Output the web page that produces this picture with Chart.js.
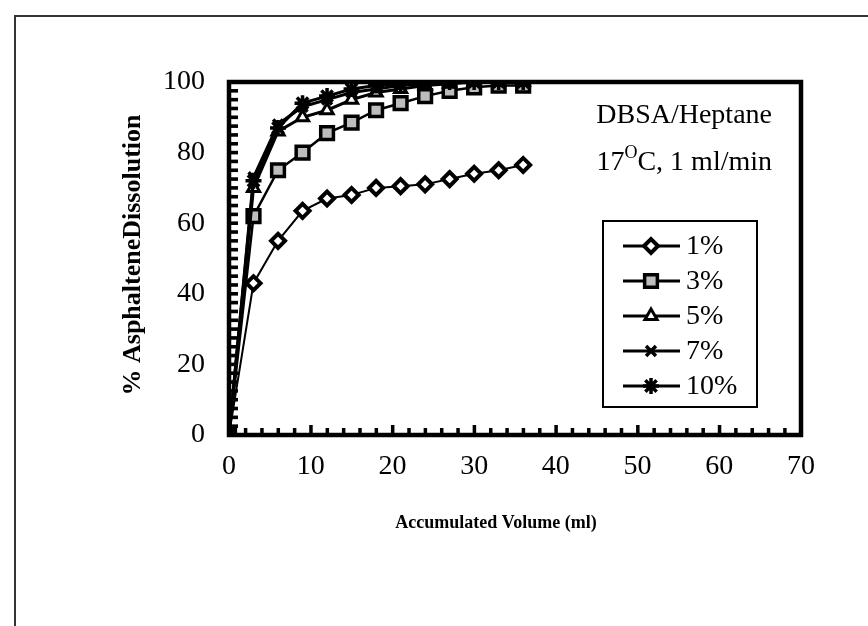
<!DOCTYPE html>
<html>
<head>
<meta charset="utf-8">
<script src="https://cdn.jsdelivr.net/npm/chart.js@4/dist/chart.umd.min.js"></script>
<style>
  html, body { margin: 0; padding: 0; background: #fff; }
  #wrap { position: relative; width: 868px; height: 626px; overflow: hidden; }
  #frame { position: absolute; left: 14px; top: 15px; width: 900px; height: 700px;
           border-left: 2px solid #333; border-top: 2px solid #333; }
  canvas { position: absolute; left: 0; top: 0; }
</style>
</head>
<body>
<div id="wrap">
  <div id="frame"></div>
  <canvas id="chart" width="868" height="626"></canvas>
</div>
<script>
// accumulated volume (ml) and % asphaltene dissolution per DBSA concentration
const volume = [0, 3, 6, 9, 12, 15, 18, 21, 24, 27, 30, 33, 36];
const dbsa1 = [0, 43, 55, 63.5, 67, 68, 70, 70.5, 71, 72.5, 74, 75, 76.5];
const dbsa3 = [0, 62, 75, 80, 85.5, 88.5, 92, 94, 96, 97.5, 98.5, 99, 99];
const dbsa5 = [0, 70, 86, 90, 92, 95, 97, 98, 99, 99.5, 100, 100, 100];
const dbsa7 = [0, 73, 88, 93, 95, 97, 98, 99, 99.5, 100, 100, 100, 100];
const dbsa10 = [0, 72, 87, 94, 96, 98, 99, 99.5, 100, 100, 100, 100, 100];
const seriesNames = ['1%', '3%', '5%', '7%', '10%'];
const xTicks = [0, 10, 20, 30, 40, 50, 60, 70];
const yTicks = [0, 20, 40, 60, 80, 100];

const serif = "'Liberation Serif', 'DejaVu Serif', serif";

function pts(ys) {
	return volume.map(function (v, i) { return { x: v, y: ys[i] }; });
}

const styles = [
	{ pointStyle: 'rectRot', radius: 7, bg: '#ffffff', bw: 4, lw: 2 },
	{ pointStyle: 'rect', radius: 9, bg: '#bdbdbd', bw: 3.5, lw: 2.5 },
	{ pointStyle: 'triangle', radius: 7, bg: '#ffffff', bw: 3, lw: 3 },
	{ pointStyle: 'crossRot', radius: 7, bg: '#000000', bw: 3.5, lw: 3 },
	{ pointStyle: 'star', radius: 8, bg: '#000000', bw: 3.5, lw: 3 }
];

const allData = [dbsa1, dbsa3, dbsa5, dbsa7, dbsa10];

const datasets = allData.map(function (ys, i) {
	const s = styles[i];
	return {
		label: seriesNames[i],
		data: pts(ys),
		showLine: true,
		borderColor: '#000',
		borderWidth: s.lw,
		pointStyle: s.pointStyle,
		pointRadius: s.radius,
		pointBackgroundColor: s.bg,
		pointBorderColor: '#000',
		pointBorderWidth: s.bw,
		tension: 0
	};
}).reverse();

const decor = {
	id: 'decor',
	beforeDatasetsDraw: function (chart) {
		const ctx = chart.ctx;
		const a = chart.chartArea;
		const xs = chart.scales.x;
		const ys = chart.scales.y;
		ctx.save();
		ctx.strokeStyle = '#000';
		ctx.fillStyle = '#000';
		// minor ticks pointing inward
		for (let v = 2; v < 70; v += 2) {
			const px = xs.getPixelForValue(v);
			const len = (v % 10 === 0) ? 10 : 7;
			ctx.fillRect(px - 1.5, a.bottom - len, 3.5, len);
		}
		for (let v = 2.5; v < 100; v += 2.5) {
			const py = ys.getPixelForValue(v);
			ctx.fillRect(a.left, py - 1.8, 9, 3.6);
		}
		// heavy plot frame
		ctx.lineWidth = 4.5;
		ctx.strokeRect(a.left, a.top, a.right - a.left, a.bottom - a.top);
		ctx.restore();
	},
	afterDraw: function (chart) {
		const ctx = chart.ctx;
		ctx.save();
		ctx.fillStyle = '#000';
		ctx.textBaseline = 'middle';

		// axis titles
		ctx.font = 'bold 26px ' + serif;
		ctx.textAlign = 'center';
		ctx.save();
		ctx.translate(133, 255);
		ctx.rotate(-Math.PI / 2);
		ctx.fillText('% AsphalteneDissolution', 0, 0);
		ctx.restore();
		ctx.font = 'bold 18px ' + serif;
		ctx.fillText('Accumulated Volume (ml)', 496, 523);

		// condition note
		ctx.textAlign = 'left';
		ctx.font = '28px ' + serif;
		const t1 = 'DBSA/Heptane';
		ctx.fillText(t1, 772 - ctx.measureText(t1).width, 116);
		const partA = '17', partO = 'O', partB = 'C, 1 ml/min';
		const wA = ctx.measureText(partA).width;
		const wB = ctx.measureText(partB).width;
		ctx.font = '18px ' + serif;
		const wO = ctx.measureText(partO).width;
		let x0 = 772 - (wA + wO + wB);
		ctx.font = '28px ' + serif;
		ctx.fillText(partA, x0, 163);
		ctx.font = '18px ' + serif;
		ctx.fillText(partO, x0 + wA, 153);
		ctx.font = '28px ' + serif;
		ctx.fillText(partB, x0 + wA + wO, 163);

		// legend box
		ctx.strokeStyle = '#000';
		ctx.lineWidth = 2;
		ctx.strokeRect(603, 221, 154, 186);
		seriesNames.forEach(function (name, i) {
			const s = styles[i];
			const y = 246 + i * 35;
			ctx.lineWidth = 3;
			ctx.beginPath();
			ctx.moveTo(623, y);
			ctx.lineTo(680, y);
			ctx.stroke();
			ctx.fillStyle = s.bg;
			ctx.strokeStyle = '#000';
			ctx.lineWidth = s.bw;
			Chart.helpers.drawPoint(ctx, { pointStyle: s.pointStyle, radius: s.radius, rotation: 0, borderWidth: s.bw }, 651, y);
			ctx.fillStyle = '#000';
			ctx.font = '28px ' + serif;
			ctx.fillText(name, 686, y + 1);
		});
		ctx.restore();
	}
};

new Chart(document.getElementById('chart').getContext('2d'), {
	type: 'scatter',
	data: { datasets: datasets },
	options: {
		responsive: false,
		animation: false,
		events: [],
		layout: { padding: { left: 0, top: 82, right: 67, bottom: 0 } },
		plugins: {
			legend: { display: false },
			tooltip: { enabled: false }
		},
		scales: {
			x: {
				type: 'linear',
				min: 0,
				max: 70,
				afterBuildTicks: function (scale) {
					scale.ticks = xTicks.map(function (v) { return { value: v }; });
				},
				afterFit: function (scale) { scale.height = 626 - 435; },
				grid: { display: false, drawTicks: false },
				border: { display: false },
				ticks: {
					color: '#000',
					padding: 15,
					maxRotation: 0,
					font: { family: serif, size: 28 }
				}
			},
			y: {
				type: 'linear',
				min: 0,
				max: 100,
				afterBuildTicks: function (scale) {
					scale.ticks = yTicks.map(function (v) { return { value: v }; });
				},
				afterFit: function (scale) { scale.width = 229; },
				grid: { display: false, drawTicks: false },
				border: { display: false },
				ticks: {
					color: '#000',
					padding: 24,
					font: { family: serif, size: 28 }
				}
			}
		}
	},
	plugins: [decor]
});
</script>
</body>
</html>
